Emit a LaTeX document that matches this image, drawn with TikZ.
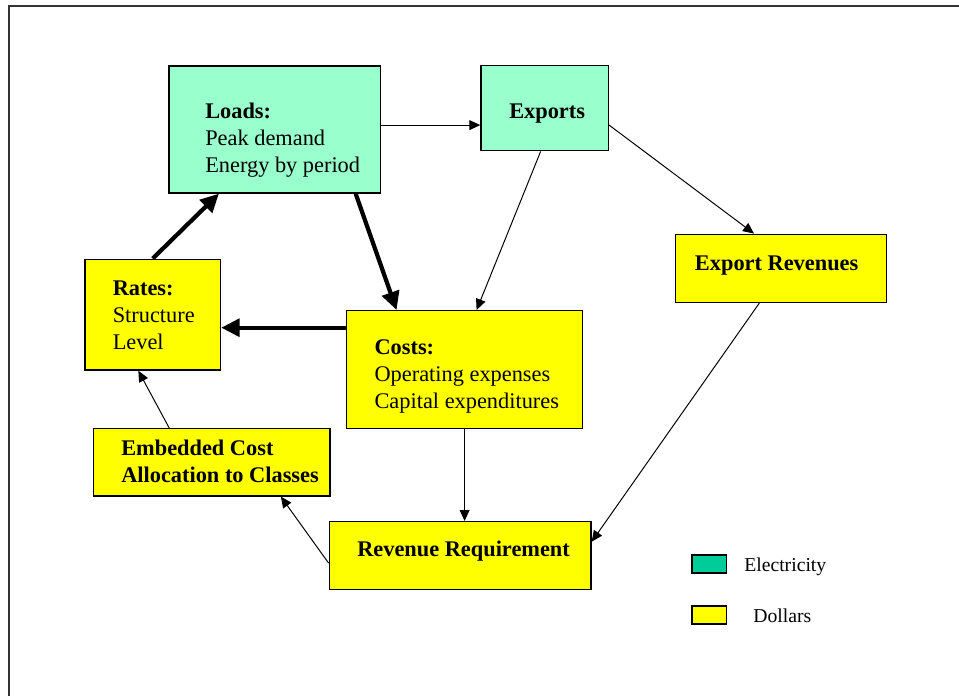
\documentclass[tikz,border=0pt]{standalone}
\usepackage{fontspec}
\setmainfont{Liberation Serif}
\usetikzlibrary{arrows.meta}

\definecolor{elecfill}{HTML}{99FFCC}
\definecolor{eleckey}{HTML}{00CC99}
\definecolor{dollarfill}{HTML}{FFFF00}

\tikzset{
  box/.style={draw=black, line width=1pt, inner sep=0pt},
  elecbox/.style={box, fill=elecfill},
  dollarbox/.style={box, fill=dollarfill},
  boxtext/.style={anchor=base west, align=left, inner sep=0pt, font=\fontsize{15.9pt}{19.2pt}\selectfont},
  keytext/.style={anchor=base west, inner sep=0pt, font=\fontsize{14pt}{16pt}\selectfont},
  thinarrow/.style={line width=0.7pt, -{Triangle[length=7.8pt, width=7pt]}},
  thickarrow/.style={line width=3pt, -{Triangle[length=13pt, width=12.5pt]}}
}

\begin{document}
\begin{tikzpicture}[x=0.025cm, y=-0.025cm]
\useasboundingbox (0,0) rectangle (959,696);

% frame
\draw[line width=1.4pt, black!80] (9,696) -- (9,6) -- (959,6);

% boxes
\node[elecbox, minimum width=5.29cm, minimum height=3.175cm] (loads) at (274.85,129.5) {};
\node[elecbox, minimum width=3.18cm, minimum height=2.125cm] (exports) at (544.65,108.2) {};
\node[dollarbox, minimum width=5.285cm, minimum height=1.7cm] (exprev) at (781,268.3) {};
\node[dollarbox, minimum width=3.39cm, minimum height=2.77cm] (rates) at (152.75,314.65) {};
\node[dollarbox, minimum width=5.905cm, minimum height=2.94cm] (costs) at (464.6,369.5) {};
\node[dollarbox, minimum width=5.92cm, minimum height=1.68cm] (embcost) at (211.65,462.35) {};
\node[dollarbox, minimum width=6.54cm, minimum height=1.69cm] (revreq) at (460.15,555.5) {};

% texts (base = baseline of the last line)
\node[boxtext] (loadstext) at (205,172.3) {\textbf{Loads:}\\Peak demand\\Energy by period};
\node[boxtext] (exportstext) at (509,118.3) {\textbf{Exports}};
\node[boxtext] (exprevtext) at (694.7,270) {\textbf{Export Revenues}};
\node[boxtext] (ratestext) at (112.5,349.5) {\textbf{Rates:}\\Structure\\Level};
\node[boxtext] (coststext) at (374.3,408.3) {\textbf{Costs:}\\Operating expenses\\Capital expenditures};
\node[boxtext] (embcosttext) at (121,482.7) {\textbf{Embedded Cost}\\\textbf{Allocation to Classes}};
\node[boxtext] (revreqtext) at (357,556.7) {\textbf{Revenue Requirement}};

% arrows
\draw[thinarrow] ([yshift=0.11cm]loads.east) -- ([yshift=0.11cm]loads.east -| exports.west);
\draw[thinarrow] ([xshift=-0.1cm]exports.south) -- ([xshift=0.3cm]costs.north);
\draw[thinarrow] ([yshift=-0.42cm]exports.east) -- ([xshift=-0.675cm]exprev.north);
\draw[thickarrow] ([xshift=2.02cm]loads.south) -- ([xshift=-1.7cm]costs.north);
\draw[thickarrow] (rates.north) -- ([xshift=-1.4cm]loads.south);
\draw[thickarrow] ([yshift=1.045cm]costs.west) -- ([yshift=1.045cm]costs.west -| rates.east);
\draw[thinarrow] (costs.south) -- (costs.south |- revreq.north);
\draw[thinarrow] ([xshift=-0.54cm]exprev.south) -- ([yshift=0.345cm]revreq.east);
\draw[thinarrow] ([yshift=-0.19cm]revreq.west) -- ([xshift=1.73cm]embcost.south);
\draw[thinarrow] ([xshift=-1.06cm]embcost.north) -- ([xshift=-0.36cm]rates.south);

% legend
\node[box, fill=eleckey, minimum width=0.87cm, minimum height=0.45cm] (elekey) at (709.3,564) {};
\node[box, fill=dollarfill, minimum width=0.87cm, minimum height=0.45cm] (dollarkey) at (709.3,615) {};
\node[keytext] (elelabel) at (744,571) {Electricity};
\node[keytext] (dollarlabel) at (753,622) {Dollars};
\end{tikzpicture}
\end{document}
